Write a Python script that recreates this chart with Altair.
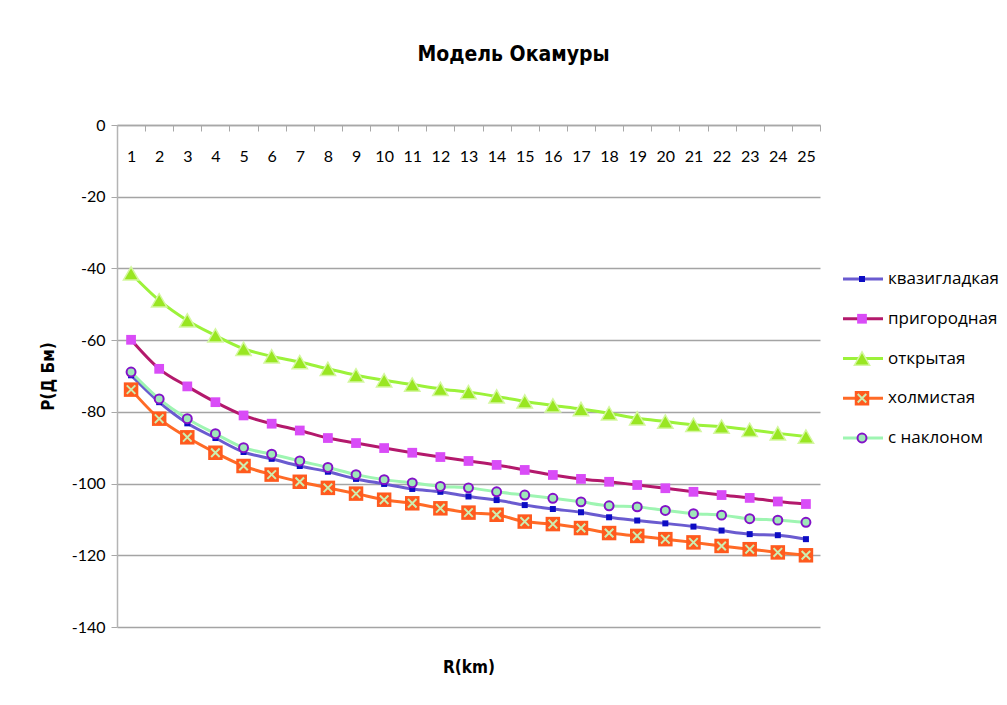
import altair as alt
import pandas as pd

R_km = list(range(1, 26))
series_names = ["квазигладкая", "пригородная", "открытая", "холмистая", "с наклоном"]

kvazi = [-69.8, -77.3, -83.2, -87.3, -91.2, -93.1, -95.1, -96.7, -98.7, -100.1, -101.5, -102.3, -103.6,
         -104.6, -106.0, -107.1, -108.0, -109.4, -110.3, -111.1, -112.0, -113.1, -114.1, -114.4, -115.5]
prigorod = [-59.9, -68.0, -72.9, -77.3, -81.0, -83.3, -85.2, -87.3, -88.7, -90.1, -91.4, -92.6, -93.7,
            -94.8, -96.2, -97.6, -98.7, -99.5, -100.4, -101.3, -102.3, -103.2, -104.0, -105.0, -105.7]
otkr = [-41.4, -48.9, -54.5, -58.7, -62.4, -64.5, -66.1, -68.0, -69.8, -71.2, -72.4, -73.6, -74.5,
        -75.7, -77.1, -78.2, -79.2, -80.4, -81.8, -82.7, -83.6, -84.1, -85.0, -86.0, -86.9]
holm = [-73.8, -81.9, -87.1, -91.4, -95.1, -97.5, -99.5, -101.2, -102.8, -104.5, -105.5, -106.9, -108.1,
        -108.7, -110.6, -111.3, -112.4, -113.8, -114.6, -115.5, -116.4, -117.4, -118.3, -119.2, -120.0]
naklon = [-68.9, -76.4, -81.9, -86.1, -90.0, -91.8, -93.7, -95.5, -97.5, -98.9, -99.8, -100.8, -101.2,
          -102.3, -103.2, -104.1, -105.1, -106.2, -106.5, -107.5, -108.4, -108.8, -109.8, -110.2, -110.8]
y_ticks = [0, -20, -40, -60, -80, -100, -120, -140]

values_by_series = [kvazi, prigorod, otkr, holm, naklon]

rows = []
for name, vals in zip(series_names, values_by_series):
    for r, v in zip(R_km, vals):
        rows.append({"series": name, "R": r, "P": v})
data = pd.DataFrame(rows)
legend_df = pd.DataFrame({"name": series_names})

W, H = 703, 502
TITLE_FONT = "'Liberation Sans Narrow', 'DejaVu Sans Condensed', sans-serif"
LABEL_FONT = "Lato, 'Open Sans', sans-serif"
LEG_FONT = "'Open Sans', 'Noto Sans', sans-serif"

X_PATH = "M-0.62,-0.62L0.62,0.62M-0.62,0.62L0.62,-0.62"

styles = {
    "квазигладкая": dict(line="#6a5bd0", marks=[dict(shape="square", size=36, fill="#0c0cc4", stroke="#0c0cc4", strokeWidth=0, filled=True)]),
    "пригородная": dict(line="#b3196c", marks=[dict(shape="square", size=95, fill="#d94cf7", stroke="#d94cf7", strokeWidth=0, filled=True)]),
    "открытая": dict(line="#9cf23a", marks=[dict(shape="triangle-up", size=235, fill="#99e622", stroke="#d4f7a0", strokeWidth=1.5, filled=True)]),
    "холмистая": dict(line="#ff6a26", marks=[dict(shape="square", size=210, fill="#ff5a1e", stroke="#ff5a1e", strokeWidth=0, filled=True),
                                             dict(shape=X_PATH, size=190, fill="#cdeeb0", stroke="#cdeeb0", strokeWidth=2, filled=False)]),
    "с наклоном": dict(line="#9ef5b2", marks=[dict(shape="circle", size=80, fill="#9ee8b8", stroke="#8312c8", strokeWidth=2, filled=True)]),
}

x_enc = alt.X(
    "R:O",
    bandPosition=0.5,
    scale=alt.Scale(type="band", domain=R_km, paddingInner=0, paddingOuter=0),
    axis=alt.Axis(
        orient="bottom", offset=-H, tickBand="extent", tickSize=6, tickWidth=1,
        tickColor="#a8a8a8", domainColor="#a8a8a8", domainWidth=1.5,
        labelPadding=17, labelFontSize=16, labelFont=LABEL_FONT, labelColor="#000000",
        labelAngle=0, grid=False,
        title="R(km)", titleFont=TITLE_FONT, titleFontSize=17, titleFontWeight="bold",
        titleColor="#000000", titleBaseline="middle", titleY=542, titleX=W / 2,
    ),
)
y_enc = alt.Y(
    "P:Q",
    scale=alt.Scale(domain=[-140, 0], nice=False, zero=False),
    axis=alt.Axis(
        values=y_ticks, tickSize=6, tickColor="#a8a8a8", domainColor="#b4b4b4", domainWidth=1.5,
        labelPadding=6, labelFontSize=16, labelFont=LABEL_FONT, labelColor="#000000",
        labelExpr="replace(datum.label, '\u2212', '-')",
        grid=True, gridColor="#a4a4a4", gridWidth=1.5,
        title="P(Д Бм)", titleFont=TITLE_FONT, titleFontSize=17, titleFontWeight="bold",
        titleColor="#000000", titleAngle=-90, titleBaseline="middle", titleX=-69, titleY=H / 2,
    ),
)

base = alt.Chart(data)
main_layers = []
for name in series_names:
    st = styles[name]
    main_layers.append(
        base.transform_filter(alt.datum.series == name)
        .mark_line(color=st["line"], strokeWidth=3, interpolate="monotone")
        .encode(x=x_enc, y=y_enc)
    )
for name in series_names:
    st = styles[name]
    for mk in st["marks"]:
        main_layers.append(
            base.transform_filter(alt.datum.series == name)
            .mark_point(shape=mk["shape"], size=mk["size"], fill=mk["fill"], stroke=mk["stroke"],
                        strokeWidth=mk["strokeWidth"], filled=mk["filled"], opacity=1, fillOpacity=1)
            .encode(x=x_enc, y=y_enc)
        )
main = alt.layer(*main_layers)

leg_y = alt.Y("name:N", scale=alt.Scale(type="point", domain=series_names, range=[154, 313], padding=0), axis=None)
leg_base = alt.Chart(legend_df)
leg_layers = []
for name in series_names:
    st = styles[name]
    leg_layers.append(
        leg_base.transform_filter(alt.datum.name == name)
        .mark_rule(color=st["line"], strokeWidth=3)
        .encode(x=alt.value(726), x2=alt.value(766), y=leg_y)
    )
    for mk in st["marks"]:
        leg_layers.append(
            leg_base.transform_filter(alt.datum.name == name)
            .mark_point(shape=mk["shape"], size=mk["size"], fill=mk["fill"], stroke=mk["stroke"],
                        strokeWidth=mk["strokeWidth"], filled=mk["filled"], opacity=1, fillOpacity=1)
            .encode(x=alt.value(745), y=leg_y)
        )
leg_layers.append(
    leg_base.mark_text(align="left", baseline="middle", font=LEG_FONT, fontSize=17, color="#000000")
    .encode(x=alt.value(771), y=leg_y, text="name:N")
)
legend = alt.layer(*leg_layers)

chart = (
    alt.layer(main, legend)
    .resolve_scale(y="independent")
    .properties(
        width=W, height=H,
        title=alt.TitleParams("Модель Окамуры", font=TITLE_FONT, fontSize=21, fontWeight="bold",
                              color="#000000", anchor="middle", dx=45, offset=52),
        autosize=alt.AutoSizeParams(type="none"),
        padding={"left": 109, "top": 117, "right": 179, "bottom": 70},
        background="#ffffff",
    )
    .configure_view(stroke=None)
)

chart.save("out.html", embed_options={"renderer": "svg", "actions": False})
